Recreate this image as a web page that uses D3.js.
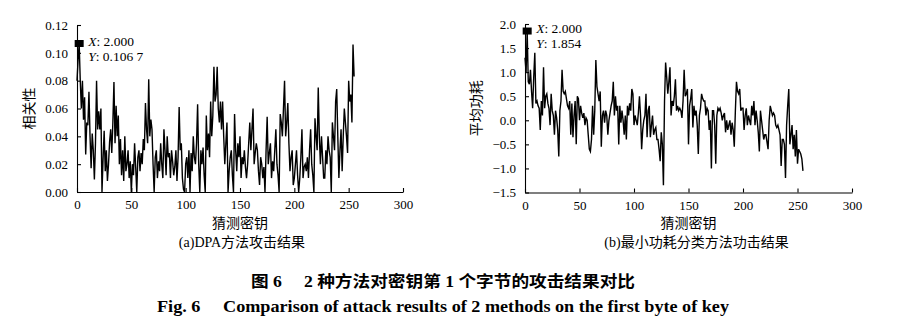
<!DOCTYPE html>
<html>
<head>
<meta charset="utf-8">
<script src="https://cdn.jsdelivr.net/npm/d3@7"></script>
<style>
  html, body { margin: 0; padding: 0; background: #fff; }
  svg { display: block; }
  text { font-family: "Liberation Serif", "Noto Sans CJK SC", serif; fill: #000; }
</style>
</head>
<body>
<svg id="chart" width="912" height="322"></svg>
<script>
// ---------- data ----------
const xTicks = [0, 50, 100, 150, 200, 250, 300];
const dpaYTicks = [0, 0.02, 0.04, 0.06, 0.08, 0.10, 0.12];
const powYTicks = [-1.5, -1.0, -0.5, 0.0, 0.5, 1.0, 1.5, 2.0];

// (a) DPA correlation for guessed keys 0..255
const dpaValues = [
  0.080, 0.095, 0.1067, 0.080, 0.060, 0.080, 0.052, 0.068, 0.027, 0.050,
  0.048, 0.072, 0.040, 0.017, 0.042, 0.030, 0.009, 0.035, 0.080, 0.045,
  0.058, 0.045, 0.060, 0.000, 0.024, 0.044, 0.015, 0.030, 0.008, 0.020,
  0.036, 0.045, 0.028, 0.050, 0.079, 0.035, 0.062, 0.040, 0.055, 0.020,
  0.038, 0.012, 0.030, 0.008, 0.040, 0.015, 0.020, 0.030, 0.010, 0.022,
  0.000, 0.020, 0.012, 0.035, 0.018, 0.000, 0.025, 0.030, 0.015, 0.028,
  0.020, 0.038, 0.030, 0.064, 0.045, 0.035, 0.081, 0.040, 0.052, 0.045,
  0.020, 0.000, 0.025, 0.030, 0.010, 0.022, 0.015, 0.035, 0.020, 0.010,
  0.045, 0.030, 0.012, 0.040, 0.025, 0.028, 0.010, 0.030, 0.022, 0.012,
  0.018, 0.030, 0.008, 0.025, 0.061, 0.030, 0.035, 0.010, 0.002, 0.000,
  0.020, 0.025, 0.010, 0.030, 0.000, 0.028, 0.015, 0.040, 0.025, 0.020,
  0.035, 0.063, 0.020, 0.000, 0.030, 0.020, 0.032, 0.012, 0.000, 0.055,
  0.030, 0.042, 0.025, 0.065, 0.040, 0.055, 0.090, 0.065, 0.070, 0.090,
  0.060, 0.050, 0.065, 0.045, 0.065, 0.040, 0.020, 0.035, 0.050, 0.000,
  0.015, 0.025, 0.030, 0.012, 0.000, 0.056, 0.030, 0.015, 0.035, 0.025,
  0.040, 0.010, 0.025, 0.020, 0.030, 0.018, 0.010, 0.020, 0.035, 0.050,
  0.030, 0.045, 0.060, 0.020, 0.028, 0.035, 0.030, 0.015, 0.005, 0.025,
  0.020, 0.010, 0.018, 0.000, 0.030, 0.054, 0.020, 0.028, 0.035, 0.010,
  0.022, 0.015, 0.030, 0.045, 0.020, 0.012, 0.000, 0.056, 0.050, 0.040,
  0.060, 0.080, 0.040, 0.050, 0.064, 0.035, 0.015, 0.025, 0.030, 0.005,
  0.010, 0.020, 0.030, 0.012, 0.000, 0.010, 0.025, 0.045, 0.010, 0.018,
  0.020, 0.015, 0.025, 0.010, 0.030, 0.045, 0.020, 0.012, 0.000, 0.053,
  0.040, 0.030, 0.075, 0.040, 0.020, 0.040, 0.025, 0.010, 0.010, 0.030,
  0.020, 0.040, 0.030, 0.025, 0.000, 0.050, 0.040, 0.030, 0.065, 0.074,
  0.040, 0.010, 0.030, 0.045, 0.015, 0.040, 0.060, 0.050, 0.040, 0.028,
  0.080, 0.065, 0.070, 0.050, 0.106, 0.083
];

// (b) average power (minimum-power classification) for guessed keys 0..255
const powValues = [
  1.30, 1.00, 1.854, 0.80, 0.75, 1.05, 0.60, 0.25, 0.90, 1.40,
  0.35, 0.40, 0.30, 0.25, -0.20, 0.40, 0.10, 1.10, 0.25, 0.50,
  0.55, 0.35, 0.25, -0.10, 0.55, 0.20, 0.10, -0.30, 0.20, 0.05,
  -0.20, -0.75, 0.20, 0.40, 1.05, 0.60, 0.55, 0.60, 0.45, 0.30,
  0.25, 0.40, -0.30, 0.35, -0.35, 0.10, 0.40, -0.50, 0.50, 0.45,
  0.00, 0.30, 0.15, 0.05, 0.15, -0.10, 0.05, 0.00, -0.30, -0.60,
  -0.65, -0.40, 0.30, -0.30, 0.20, 1.25, 0.70, 0.55, 0.40, 0.60,
  -0.55, 0.10, 0.20, -0.05, 0.20, 0.10, -0.30, 0.00, 0.15, 0.30,
  0.40, 0.80, 0.10, 0.50, 0.20, 0.30, -0.50, 0.30, -0.05, 0.20,
  0.00, -0.30, 0.10, -0.40, 0.30, 0.10, 0.35, 0.20, 0.65, 0.55,
  -0.10, 0.10, 0.00, -0.10, 0.15, 0.50, 0.10, -0.60, -0.20, 0.00,
  0.10, 0.55, -0.35, 0.20, 0.30, -0.35, -0.10, 0.10, -0.30, -0.20,
  -0.15, -0.40, -0.40, -0.60, -0.85, -0.25, -0.50, -1.35, 0.40, 1.20,
  0.90, 0.55, 0.80, 1.10, 0.10, 0.40, 0.30, 0.50, 0.85, 0.20,
  0.30, 0.20, 0.25, 0.20, 0.05, 0.40, 1.05, 0.50, 0.55, 0.65,
  -0.50, 0.30, 0.45, 0.65, -0.15, 0.30, 0.10, 0.20, -0.10, -0.70,
  0.10, 0.25, 0.55, 0.45, 0.40, 0.40, 0.10, 0.25, 0.20, -0.20,
  0.00, -1.00, 0.20, 0.20, -0.10, -0.90, 0.10, 0.25, 0.20, 0.25,
  0.15, 0.00, 0.10, 0.15, -0.25, 0.00, -0.20, -0.10, 0.00, -0.30,
  -0.05, -0.20, -0.55, 0.20, 0.80, 0.60, 0.55, 0.65, 0.20, 0.25,
  0.25, -0.20, 0.10, 0.25, -0.10, 0.10, 0.00, -0.10, 0.30, 0.10,
  0.40, -0.10, 0.20, 0.00, -0.25, -0.65, 0.20, 0.00, -0.20, -0.40,
  -0.30, -0.30, -0.45, -0.60, 0.00, 0.30, 0.20, 0.10, 0.15, 0.10,
  -0.10, -0.15, -0.10, -0.20, -0.30, -0.95, -0.40, -0.40, -0.50, -1.20,
  -0.10, 0.30, 0.65, -0.50, -0.30, -0.10, -0.60, -0.30, -0.75, -0.20,
  -0.90, -0.60, -0.65, -0.70, -0.80, -1.05
];

const markerA = { x: 2, y: 0.1067, xLabel: "2.000", yLabel: "0.106 7" };
const markerB = { x: 2, y: 1.854, xLabel: "2.000", yLabel: "1.854" };

// ---------- drawing ----------
const svg = d3.select("#chart");

function panel(cfg) {
  const g = svg.append("g");
  const x = d3.scaleLinear().domain([0, 300]).range([cfg.left, cfg.right]);
  const y = d3.scaleLinear().domain(cfg.yDomain).range([cfg.bottom, cfg.top]);

  const xAxis = d3.axisBottom(x).tickValues(xTicks).tickFormat(d3.format("d"))
    .tickSize(-4).tickSizeOuter(0).tickPadding(8);
  const yAxis = d3.axisLeft(y).tickValues(cfg.yTicks).tickFormat(cfg.yFormat)
    .tickSize(-4).tickSizeOuter(0).tickPadding(9);

  const gx = g.append("g").attr("transform", `translate(0,${cfg.bottom})`).call(xAxis);
  const gy = g.append("g").attr("transform", `translate(${cfg.left},0)`).call(yAxis);
  [gx, gy].forEach(a => {
    a.selectAll("text").style("font-size", "13px").style("font-family", "'Liberation Serif', serif");
    a.selectAll("path, line").attr("stroke", "#000").attr("stroke-width", 1.1);
  });

  const line = d3.line().x((d, i) => x(i)).y(d => y(d));
  g.append("path").datum(cfg.values)
    .attr("fill", "none").attr("stroke", "#000").attr("stroke-width", 1.4)
    .attr("stroke-linejoin", "miter").attr("d", line);

  // data tip marker
  const mx = x(cfg.marker.x), my = y(cfg.marker.y);
  g.append("rect").attr("x", mx - 4.5).attr("y", my - 3.5).attr("width", 9).attr("height", 7).attr("fill", "#000");
  const t1 = g.append("text").attr("x", mx + 9).attr("y", my + 2).style("font-size", "13.5px");
  t1.append("tspan").style("font-style", "italic").text("X");
  t1.append("tspan").text(": " + cfg.marker.xLabel);
  const t2 = g.append("text").attr("x", mx + 9).attr("y", my + 17).style("font-size", "13.5px");
  t2.append("tspan").style("font-style", "italic").text("Y");
  t2.append("tspan").text(": " + cfg.marker.yLabel);

  // axis labels
  const cx = (cfg.left + cfg.right) / 2;
  g.append("text").attr("x", cx).attr("y", 228).attr("text-anchor", "middle")
    .style("font-size", "14px").style("font-family", "'Noto Sans CJK SC'").text("猜测密钥");
  g.append("text").attr("transform", `translate(${cfg.yLabelX},${(cfg.top + cfg.bottom) / 2}) rotate(-90)`)
    .attr("text-anchor", "middle").attr("dy", "0.35em")
    .style("font-size", "14px").style("font-family", "'Noto Sans CJK SC'").text(cfg.yLabel);
  g.append("text").attr("x", cx + cfg.subDx).attr("y", 247).attr("text-anchor", "middle")
    .style("font-size", "14px").text(cfg.sub);
}

panel({
  left: 77, right: 403, top: 25, bottom: 192,
  yDomain: [0, 0.12], yTicks: dpaYTicks, yFormat: d3.format(".2f"),
  values: dpaValues, marker: markerA,
  yLabel: "相关性", yLabelX: 29, sub: "(a)DPA方法攻击结果", subDx: 2
});
panel({
  left: 525, right: 852, top: 24, bottom: 192.5,
  yDomain: [-1.5, 2.0], yTicks: powYTicks, yFormat: d3.format(".1f"),
  values: powValues, marker: markerB,
  yLabel: "平均功耗", yLabelX: 476, sub: "(b)最小功耗分类方法功击结果", subDx: 8
});

// captions
svg.append("text").attr("x", 443).attr("y", 287).attr("text-anchor", "middle")
  .style("font-size", "16px").style("font-weight", "bold")
  .style("font-family", "'Liberation Serif', 'Noto Sans CJK SC', serif")
  .attr("textLength", 384).attr("lengthAdjust", "spacingAndGlyphs")
  .text("图 6\u2003 2 种方法对密钥第 1 个字节的攻击结果对比");
svg.append("text").attr("x", 443).attr("y", 312).attr("text-anchor", "middle")
  .style("font-size", "16px").style("font-weight", "bold")
  .attr("textLength", 572).attr("lengthAdjust", "spacingAndGlyphs")
  .text("Fig. 6\u2003 Comparison of attack results of 2 methods on the first byte of key");
</script>
</body>
</html>
